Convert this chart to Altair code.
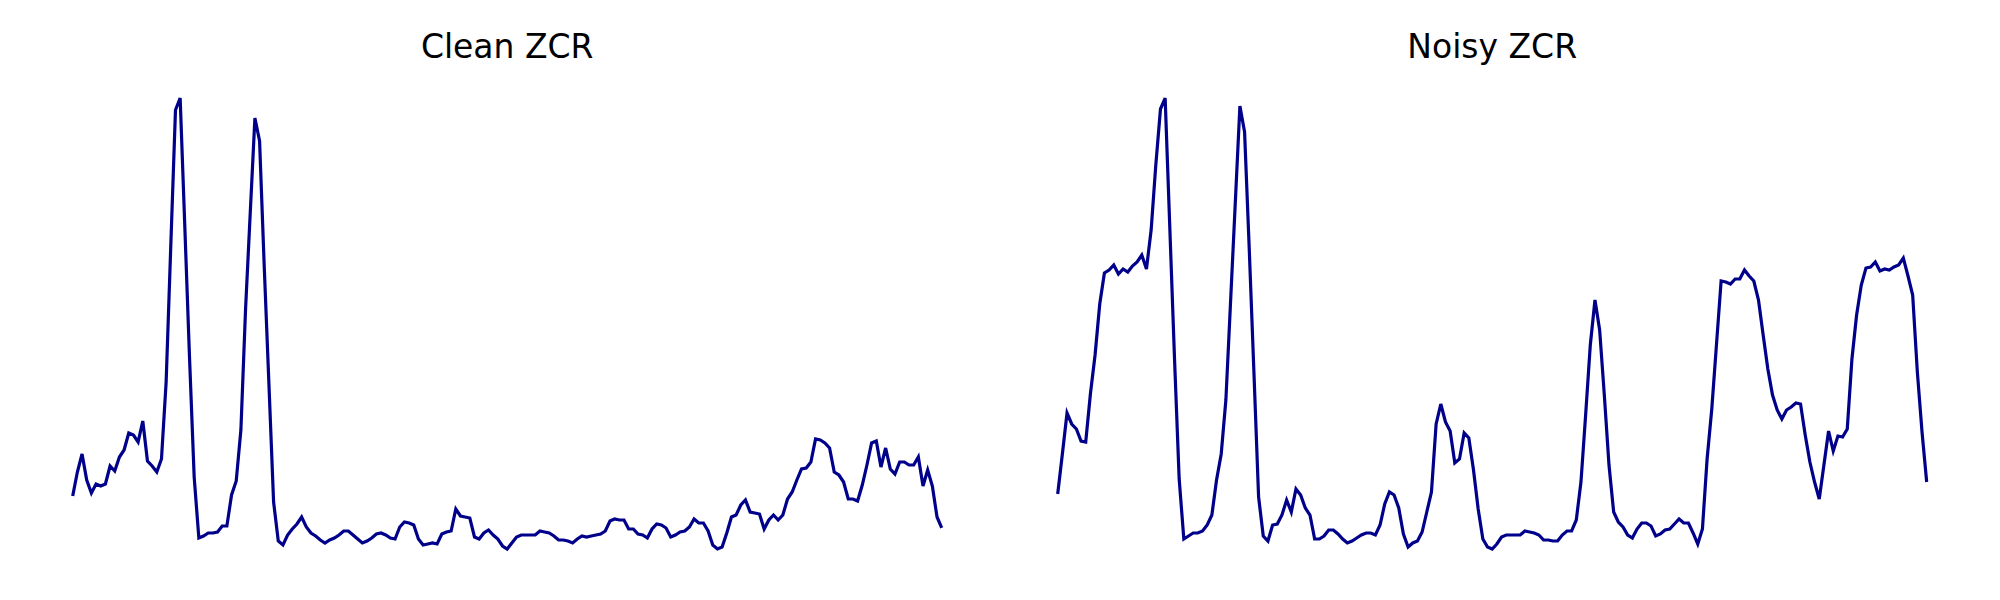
import altair as alt
import pandas as pd

# ZCR per frame
clean_zcr = [
    0.106, 0.130, 0.148, 0.122, 0.109, 0.118, 0.116, 0.118, 0.136, 0.131,
    0.145, 0.152, 0.169, 0.167, 0.160, 0.181, 0.141, 0.136, 0.130, 0.143,
    0.220, 0.357, 0.492, 0.504, 0.375, 0.245, 0.125, 0.064, 0.066, 0.069,
    0.069, 0.070, 0.076, 0.076, 0.107, 0.121, 0.172, 0.293, 0.389, 0.484,
    0.461, 0.335, 0.218, 0.100, 0.061, 0.057, 0.067, 0.073, 0.078, 0.085,
    0.075, 0.069, 0.066, 0.062, 0.059, 0.062, 0.064, 0.067, 0.071, 0.071,
    0.067, 0.063, 0.059, 0.061, 0.064, 0.068, 0.069, 0.067, 0.064, 0.063,
    0.075, 0.080, 0.079, 0.077, 0.063, 0.057, 0.058, 0.059, 0.058, 0.068,
    0.070, 0.071, 0.093, 0.086, 0.085, 0.084, 0.065, 0.063, 0.069, 0.072,
    0.067, 0.063, 0.056, 0.053, 0.059, 0.065, 0.067, 0.067, 0.067, 0.067,
    0.071, 0.070, 0.069, 0.066, 0.062, 0.062, 0.061, 0.059, 0.063, 0.066,
    0.065, 0.066, 0.067, 0.068, 0.071, 0.081, 0.083, 0.082, 0.082, 0.073,
    0.073, 0.068, 0.067, 0.064, 0.073, 0.078, 0.077, 0.074, 0.065, 0.067,
    0.070, 0.071, 0.075, 0.083, 0.079, 0.079, 0.071, 0.057, 0.053, 0.055,
    0.069, 0.085, 0.087, 0.097, 0.102, 0.090, 0.089, 0.088, 0.073, 0.082,
    0.087, 0.082, 0.087, 0.103, 0.110, 0.122, 0.133, 0.134, 0.140, 0.163,
    0.162, 0.159, 0.154, 0.130, 0.127, 0.120, 0.103, 0.103, 0.101, 0.117,
    0.137, 0.159, 0.161, 0.135, 0.154, 0.133, 0.128, 0.140, 0.140, 0.137,
    0.137, 0.145, 0.116, 0.132, 0.116, 0.085, 0.074,
]

noisy_zcr = [
    0.108, 0.148, 0.189, 0.178, 0.173, 0.161, 0.160, 0.208, 0.247, 0.298,
    0.329, 0.332, 0.337, 0.328, 0.333, 0.330, 0.336, 0.340, 0.347, 0.333,
    0.372, 0.437, 0.493, 0.504, 0.374, 0.244, 0.123, 0.063, 0.066, 0.069,
    0.069, 0.071, 0.077, 0.087, 0.122, 0.148, 0.202, 0.300, 0.398, 0.496,
    0.470, 0.353, 0.230, 0.105, 0.066, 0.061, 0.077, 0.078, 0.087, 0.102,
    0.090, 0.113, 0.107, 0.094, 0.087, 0.063, 0.063, 0.066, 0.072, 0.072,
    0.068, 0.063, 0.059, 0.061, 0.064, 0.067, 0.069, 0.069, 0.067, 0.077,
    0.098, 0.110, 0.107, 0.094, 0.068, 0.055, 0.059, 0.061, 0.070, 0.090,
    0.110, 0.178, 0.198, 0.180, 0.171, 0.139, 0.143, 0.169, 0.164, 0.132,
    0.093, 0.063, 0.055, 0.053, 0.058, 0.065, 0.067, 0.067, 0.067, 0.067,
    0.071, 0.070, 0.069, 0.067, 0.062, 0.062, 0.061, 0.061, 0.067, 0.071,
    0.071, 0.082, 0.120, 0.187, 0.257, 0.302, 0.272, 0.207, 0.137, 0.090,
    0.080, 0.075, 0.067, 0.064, 0.073, 0.079, 0.079, 0.076, 0.066, 0.068,
    0.072, 0.073, 0.078, 0.083, 0.079, 0.079, 0.069, 0.058, 0.073, 0.143,
    0.193, 0.257, 0.321, 0.320, 0.318, 0.323, 0.323, 0.332, 0.326, 0.321,
    0.302, 0.267, 0.233, 0.207, 0.192, 0.183, 0.192, 0.195, 0.199, 0.198,
    0.167, 0.140, 0.120, 0.103, 0.137, 0.171, 0.151, 0.166, 0.165, 0.173,
    0.243, 0.287, 0.317, 0.334, 0.335, 0.340, 0.331, 0.333, 0.332, 0.335,
    0.337, 0.344, 0.326, 0.307, 0.230, 0.170, 0.120,
]

LINE_COLOR = "#00008b"


def zcr_panel(values: list[float], title: str) -> alt.Chart:
    """Courbe ZCR sans axes, titre centré."""
    df = pd.DataFrame({"frame": range(len(values)), "zcr": values})
    return (
        alt.Chart(
            df,
            title=alt.TitleParams(
                title,
                font="DejaVu Sans",
                fontSize=33,
                fontWeight="normal",
                color="black",
                anchor="middle",
                baseline="alphabetic",
                offset=1,
            ),
        )
        .mark_line(color=LINE_COLOR, strokeWidth=3.2)
        .encode(
            x=alt.X(
                "frame:Q",
                axis=None,
                scale=alt.Scale(domain=[0, len(values) - 1], nice=False, zero=False),
            ),
            y=alt.Y(
                "zcr:Q",
                axis=None,
                scale=alt.Scale(domain=[min(values), max(values)], nice=False, zero=False),
            ),
        )
        .properties(width=869, height=451)
    )


chart = (
    alt.hconcat(
        zcr_panel(clean_zcr, "Clean ZCR"),
        zcr_panel(noisy_zcr, "Noisy ZCR"),
        spacing=116,
        bounds="flush",
        padding={"left": 57.7, "top": 23, "right": 10, "bottom": 10},
    )
    .configure_view(stroke=None)
)

chart.save("out.html", embed_options={"renderer": "svg", "actions": False})
